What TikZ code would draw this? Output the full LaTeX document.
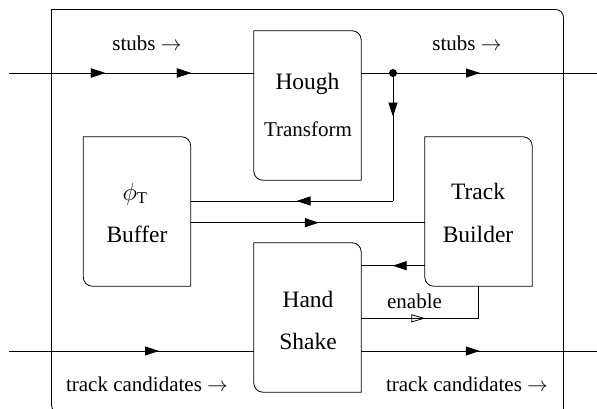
\documentclass[tikz,border=0pt]{standalone}
\usepackage{fontspec}
\setmainfont{Liberation Serif}
\usetikzlibrary{arrows.meta,decorations.markings}
\tikzset{
  ln/.style={line width=0.8pt},
  tipf/.style={postaction={decorate},decoration={markings,mark=at position #1 with {\arrow{Triangle[length=14pt,width=9pt]}}}},
  tipo/.style={postaction={decorate},decoration={markings,mark=at position #1 with {\arrowreversed{Triangle[open,length=14pt,width=8pt,line width=0.8pt]}}}},
  blk/.style={minimum width=107pt,minimum height=149pt,inner sep=0pt,draw=none},
  big/.style={font=\fontsize{23.5}{26}\selectfont},
  sml/.style={font=\fontsize{21}{24}\selectfont},
}
\newcommand{\tbox}[1]{\draw[ln] (#1.north west) -- ([xshift=-9pt]#1.north east) arc[start angle=90,end angle=0,radius=9pt] -- (#1.south east) -- ([xshift=9pt]#1.south west) arc[start angle=270,end angle=180,radius=9pt] -- cycle;}
\begin{document}
\begin{tikzpicture}[x=1pt,y=1pt]
\useasboundingbox (0,0) rectangle (597,409);
% outer frame
\draw[ln] (563.5,-10) -- (563.5,391.5) arc[start angle=0,end angle=90,radius=8] -- (51.5,399.5) -- (51.5,4) arc[start angle=180,end angle=270,radius=8] -- (62,-4);
% blocks
\node[blk] (hough) at (307.5,303.5) {};
\node[blk] (buf) at (137,197.5) {};
\node[blk] (tb) at (478.5,197.5) {};
\node[blk] (hs) at (307.5,91.5) {};
\tbox{hough}\tbox{buf}\tbox{tb}\tbox{hs}
% texts
\node[big] (t1) at (307.5,325) {Hough};
\node[sml] (t2) at (308,280) {Transform};
\node[big] (t3) at (135,215) {$\phi_{\mathrm{T}}$};
\node[big] (t4) at (137,175) {Buffer};
\node[big] (t5) at (478,218) {Track};
\node[big] (t6) at (478,175) {Builder};
\node[big] (t7) at (308,110) {Hand};
\node[big] (t8) at (308,68) {Shake};
\node[sml] (l1) at (147,366) {stubs $\rightarrow$};
\node[sml] (l2) at (467,366) {stubs $\rightarrow$};
\node[sml] (l3) at (147,25) {track candidates $\rightarrow$};
\node[sml] (l4) at (467,25) {track candidates $\rightarrow$};
\node[sml] (l5) at (414.5,108) {enable};
% coordinates
\coordinate (inS) at (9,336);
\coordinate (outS) at (597,336);
\coordinate (inT) at (9,58);
\coordinate (outT) at (597,58);
\coordinate (dot) at (393,336);
\coordinate (cor) at (393,208);
\coordinate (en) at (478.7,90.7);
% stubs in
\draw[ln,tipf=0.392,tipf=0.743] (inS) -- (hough.west|-inS);
\draw[ln,tipf=0.504] (hough.east|-dot) -- (outS);
\fill (dot) circle[radius=4];
\draw[ln,tipf=0.34] (dot) -- (cor);
\draw[ln,tipf=0.477] (cor) -- (buf.east|-cor);
\draw[ln,tipf=0.547] (buf.east|-0,186.3) -- (tb.west|-0,186.3);
\draw[ln,tipf=0.505] (tb.west|-0,143.3) -- (hs.east|-0,143.3);
\draw[ln] (tb.south-|en) -- (en);
\draw[ln,tipo=0.454] (en) -- (hs.east|-en);
\draw[ln,tipf=0.613] (inT) -- (hs.west|-inT);
\draw[ln,tipf=0.503] (hs.east|-inT) -- (outT);
\end{tikzpicture}
\end{document}
